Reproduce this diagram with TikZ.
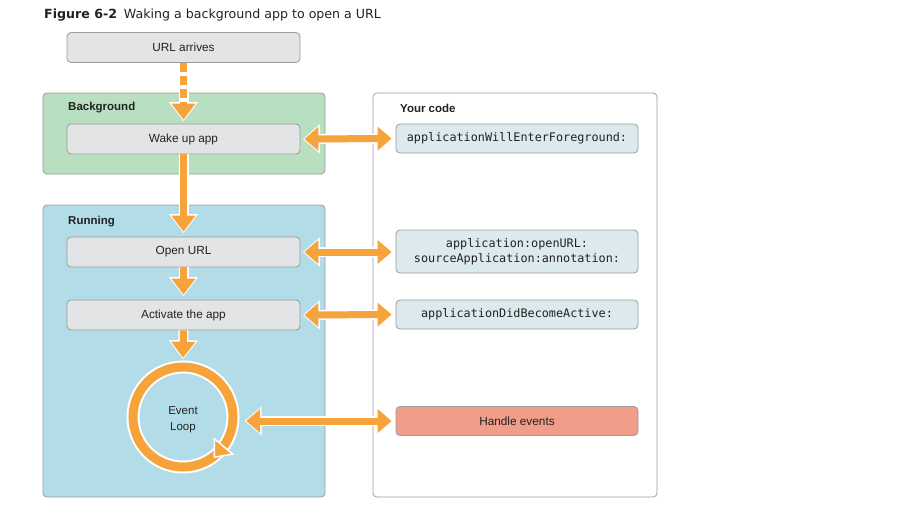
\documentclass[tikz,border=0pt]{standalone}
\usepackage{fontspec}
\setmainfont{Liberation Sans}
\setmonofont{DejaVu Sans Mono}
\newfontfamily\titlefont{DejaVu Sans}
\usetikzlibrary{arrows.meta}
\definecolor{orng}{HTML}{F6A33B}
\definecolor{boxgray}{HTML}{E3E4E6}
\definecolor{edgegray}{HTML}{9C9C9C}
\definecolor{bggreen}{HTML}{B9DFC1}
\definecolor{runblue}{HTML}{B2DCE8}
\definecolor{codefill}{HTML}{DCEAEE}
\definecolor{salmon}{HTML}{F09E89}
\definecolor{txt}{HTML}{222222}
\tikzset{
  panel/.style={draw=edgegray, line width=0.8pt, rounded corners=4pt, inner sep=0pt},
  stepbox/.style={draw=edgegray, line width=0.8pt, rounded corners=4pt, fill=boxgray,
    minimum width=233pt, minimum height=30pt, inner sep=0pt, text=txt,
    font=\fontsize{11.8}{14}\selectfont},
  codebox/.style={draw=edgegray, line width=0.8pt, rounded corners=4pt, fill=codefill,
    minimum width=242pt, minimum height=29pt, inner sep=0pt, text=txt, align=center,
    font=\ttfamily\fontsize{11.8}{15}\selectfont},
  plabel/.style={anchor=west, inner sep=0pt, text=txt, font=\bfseries\fontsize{11.5}{14}\selectfont},
  oarr/.style={draw=orng, line width=7pt, -{Triangle[length=16pt,width=23pt]},
    preaction={draw=white, line width=10pt, -{Triangle[length=19pt,width=28pt]}, shorten >=-1.5pt}},
  oarrd/.style={draw=orng, line width=7pt, {Triangle[length=14pt,width=23pt]}-{Triangle[length=14pt,width=23pt]},
    preaction={draw=white, line width=10pt, {Triangle[length=17pt,width=28pt]}-{Triangle[length=17pt,width=28pt]}, shorten >=-1.5pt, shorten <=-1.5pt}},
}
\begin{document}
\begin{tikzpicture}[x=1pt,y=-1pt]
\useasboundingbox (0,0) rectangle (915,527);
\fill[white] (0,0) rectangle (915,527);

% title
\node[anchor=west, inner sep=0pt, text=txt, font=\titlefont\fontsize{12.6}{15}\selectfont] (title) at (44,15)
  {\textbf{Figure 6-2}\hspace{0.55em}Waking a background app to open a URL};

% panels
\node[panel, fill=bggreen, minimum width=282pt, minimum height=81pt] (bg) at (184,133.5) {};
\node[panel, fill=runblue, minimum width=282pt, minimum height=292pt] (run) at (184,351) {};
\node[panel, fill=white, minimum width=284pt, minimum height=404pt] (code) at (515,295) {};
\node[plabel] (bgl) at (68,108) {Background};
\node[plabel] (runl) at (68,222) {Running};
\node[plabel] (codel) at (400,108) {Your code};

% steps
\node[stepbox] (url) at (183.5,47.5) {URL arrives};
\node[stepbox] (wake) at (183.5,139) {Wake up app};
\node[stepbox] (open) at (183.5,252) {Open URL};
\node[stepbox] (act) at (183.5,315) {Activate the app};

% code boxes
\node[codebox] (wef) at (517,138.5) {applicationWillEnterForeground:};
\node[codebox, minimum height=43pt] (ourl) at (517,251.5) {application:openURL:\\sourceApplication:annotation:};
\node[codebox] (dba) at (517,314.5) {applicationDidBecomeActive:};
\node[codebox, fill=salmon, font=\fontsize{11.8}{14}\selectfont] (he) at (517,421) {Handle events};

% event loop
\node[circle, minimum size=118pt, inner sep=0pt] (loop) at (183,417) {};
\draw[white, line width=13pt] (loop.center) circle (50pt);
\draw[orng, line width=9pt] (loop.center) circle (50pt);
\filldraw[fill=orng, draw=white, line width=1.5pt, line join=miter]
  ([shift={(49.7,37.1)}]loop.center) -- ([shift={(31.3,21.7)}]loop.center)
  -- ([shift={(31.5,40.2)}]loop.center) -- cycle;
\node[align=center, inner sep=0pt, text=txt, font=\fontsize{11.5}{16}\selectfont] (looptext) at (183,420) {Event\\Loop};

% vertical arrows
\draw[oarr, dash pattern=on 9pt off 4pt] (url.south) -- ([yshift=4pt]wake.north);
\draw[oarr] (wake.south) -- ([yshift=5pt]open.north);
\draw[oarr] (open.south) -- ([yshift=5pt]act.north);
\draw[oarr] (act.south) -- (loop.north);

% horizontal double arrows
\draw[oarrd] ([xshift=4pt]wake.east) -- ([xshift=-4pt]wef.west);
\draw[oarrd] ([xshift=4pt]open.east) -- ([xshift=-4pt]open.east -| ourl.west);
\draw[oarrd] ([xshift=4pt]act.east) -- ([xshift=-4pt]dba.west);
\draw[oarrd] ([xshift=4pt]loop.east |- he.west) -- ([xshift=-4pt]he.west);
\end{tikzpicture}
\end{document}
